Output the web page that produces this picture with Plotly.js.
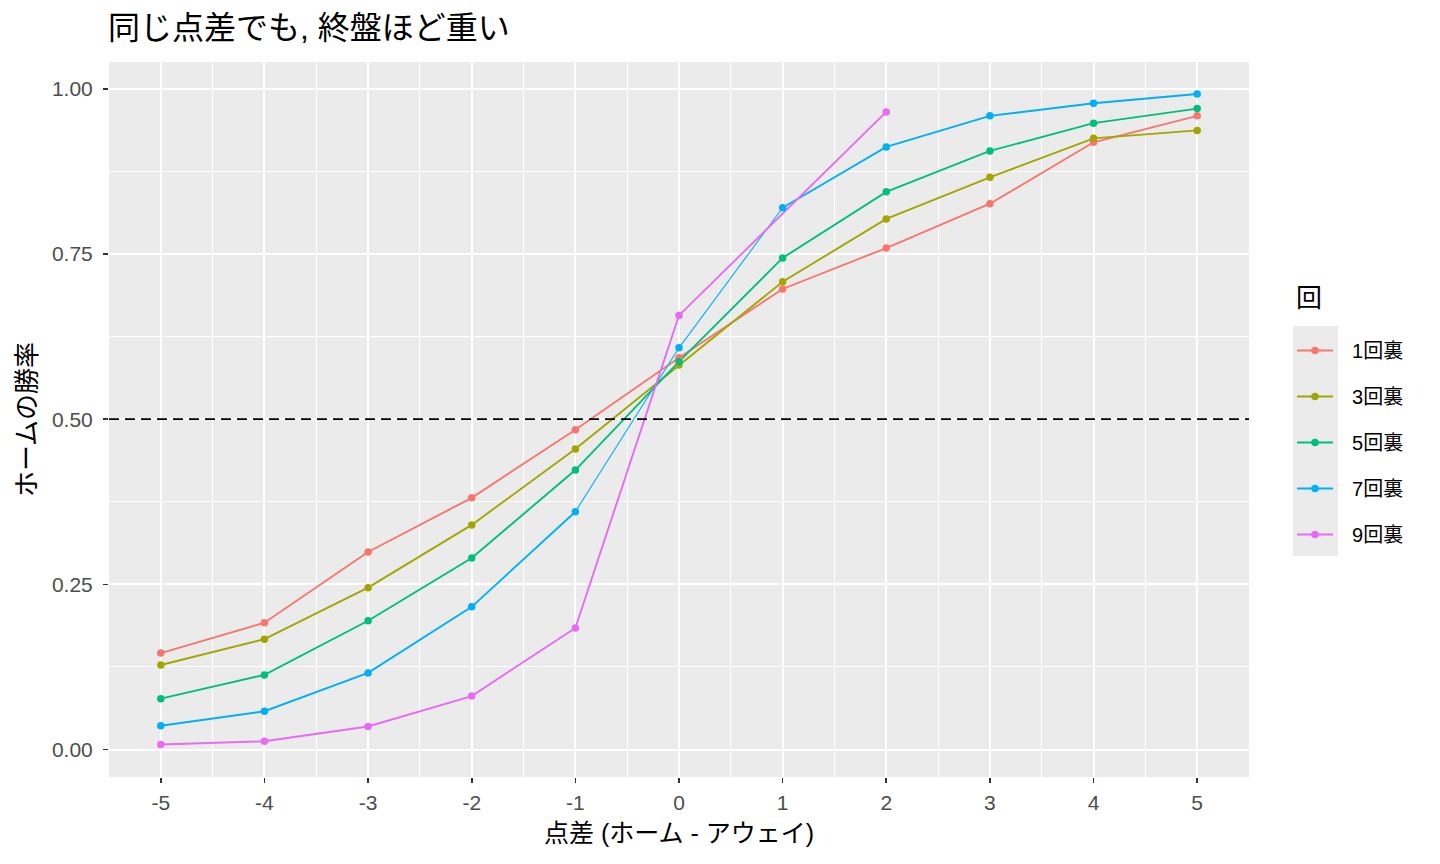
<!DOCTYPE html>
<html>
<head>
<meta charset="utf-8">
<script src="https://cdn.plot.ly/plotly-3.0.1.min.js"></script>
<style>html,body{margin:0;padding:0;background:#fff;}#chart{width:1440px;height:864px;}</style>
</head>
<body>
<div id="chart"></div>
<script>
const diffs = [-5, -4, -3, -2, -1, 0, 1, 2, 3, 4, 5];
const diffs9 = [-5, -4, -3, -2, -1, 0, 2];
const seriesNames = ["1回裏", "3回裏", "5回裏", "7回裏", "9回裏"];
const inning1 = [0.146, 0.192, 0.299, 0.381, 0.484, 0.593, 0.697, 0.759, 0.826, 0.919, 0.959];
const inning3 = [0.128, 0.167, 0.245, 0.340, 0.455, 0.582, 0.708, 0.803, 0.866, 0.925, 0.937];
const inning5 = [0.077, 0.113, 0.195, 0.290, 0.423, 0.587, 0.744, 0.844, 0.906, 0.948, 0.970];
const inning7 = [0.036, 0.058, 0.116, 0.216, 0.360, 0.608, 0.820, 0.912, 0.959, 0.978, 0.992];
const inning9 = [0.0076, 0.0126, 0.035, 0.081, 0.184, 0.657, 0.965];
const xTicks = [-5, -4, -3, -2, -1, 0, 1, 2, 3, 4, 5];
const yTicks = [0, 0.25, 0.5, 0.75, 1.0];
const yTickLabels = ["0.00", "0.25", "0.50", "0.75", "1.00"];
const refLine = 0.5;

const colors = ["#F8766D", "#A3A500", "#00BF7D", "#00B0F6", "#E76BF3"];
const xs = [diffs, diffs, diffs, diffs, diffs9];
const ys = [inning1, inning3, inning5, inning7, inning9];

const traces = [];
for (let i = 0; i < 5; i++) {
  if (i === 3) {
    const a = xs[i].indexOf(-1), b = xs[i].indexOf(1);
    traces.push({x: xs[i].slice(0, a + 1), y: ys[i].slice(0, a + 1), mode: 'lines', line: {color: colors[i], width: 1.9}, showlegend: false, hoverinfo: 'skip'});
    traces.push({x: xs[i].slice(a, b + 1), y: ys[i].slice(a, b + 1), mode: 'lines', line: {color: colors[i], width: 1.1}, showlegend: false, hoverinfo: 'skip'});
    traces.push({x: xs[i].slice(b), y: ys[i].slice(b), mode: 'lines', line: {color: colors[i], width: 1.9}, showlegend: false, hoverinfo: 'skip'});
  } else {
    traces.push({x: xs[i], y: ys[i], mode: 'lines', line: {color: colors[i], width: 1.9}, showlegend: false, hoverinfo: 'skip'});
  }
}
for (let i = 0; i < 5; i++) {
  traces.push({x: xs[i], y: ys[i], mode: 'markers', marker: {color: colors[i], size: 7.5}, showlegend: false, name: seriesNames[i]});
}
for (let i = 0; i < 5; i++) {
  traces.push({x: [null], y: [null], mode: 'lines+markers', name: '\u2002\u2009' + seriesNames[i], legendgroup: 'g' + i,
    line: {color: colors[i], width: 1.9}, marker: {color: colors[i], size: 7.5}, showlegend: true});
}

const ml = 109, mr = 191, mt = 62, mb = 87;
const pw = 1440 - ml - mr, ph = 864 - mt - mb;
const px2x = p => (p - ml) / pw;
const px2y = p => (864 - mb - p) / ph;

const layout = {
  width: 1440, height: 864,
  margin: {l: ml, r: mr, t: mt, b: mb, pad: 0},
  paper_bgcolor: '#FFFFFF',
  plot_bgcolor: '#EBEBEB',
  font: {family: '"Liberation Sans", Arial, "Noto Sans CJK JP", sans-serif', color: '#000'},
  title: {text: '同じ点差でも, 終盤ほど重い', x: 108 / 1440, xref: 'container', xanchor: 'left', y: 1 - 28 / 864, yref: 'container', yanchor: 'middle',
    font: {size: 32, family: '"Liberation Sans", "Noto Sans CJK JP", sans-serif', color: '#000'}},
  xaxis: {
    range: [-5.5, 5.5], tickvals: xTicks, ticktext: xTicks.map(String), zeroline: false,
    showgrid: true, gridcolor: '#FFFFFF', gridwidth: 2,
    minor: {dtick: 0.5, tick0: -5.5, showgrid: true, gridcolor: '#FFFFFF', gridwidth: 1, ticks: ''},
    ticks: 'outside', ticklen: 5, tickwidth: 1.6, tickcolor: '#333333',
    tickfont: {size: 21, color: '#4D4D4D'}, ticklabelstandoff: 2,
    title: {text: '点差 (ホーム - アウェイ)', font: {size: 25, color: '#000'}, standoff: 11},
    showline: false, fixedrange: true
  },
  yaxis: {
    range: [-0.0415, 1.0405], tickvals: yTicks, ticktext: yTickLabels, zeroline: false,
    showgrid: true, gridcolor: '#FFFFFF', gridwidth: 2,
    minor: {dtick: 0.125, tick0: -0.125, showgrid: true, gridcolor: '#FFFFFF', gridwidth: 1, ticks: ''},
    ticks: 'outside', ticklen: 5, tickwidth: 1.6, tickcolor: '#333333',
    tickfont: {size: 21, color: '#4D4D4D'}, ticklabelstandoff: 6,
    title: {text: 'ホームの勝率', font: {size: 26, color: '#000'}, standoff: 7},
    showline: false, fixedrange: true
  },
  shapes: [
    {type: 'line', xref: 'paper', x0: 0, x1: 1, yref: 'y', y0: refLine, y1: refLine,
      line: {color: '#000000', width: 1.9, dash: '10px,6px'}},
    {type: 'rect', xref: 'paper', yref: 'paper', x0: px2x(1293), x1: px2x(1338), y0: px2y(556), y1: px2y(326),
      fillcolor: '#EBEBEB', line: {width: 0}, layer: 'below'}
  ],
  annotations: [
    {text: '回', xref: 'paper', yref: 'paper', x: px2x(1294), y: px2y(298), xanchor: 'left', yanchor: 'middle',
      showarrow: false, font: {size: 26, color: '#000'}}
  ],
  legend: {
    x: px2x(1292), y: px2y(331), xanchor: 'left', yanchor: 'top',
    bgcolor: 'rgba(0,0,0,0)', borderwidth: 0,
    traceorder: 'grouped', tracegroupgap: 17,
    font: {size: 20, color: '#000'},
    itemwidth: 36
  },
  showlegend: true
};

Plotly.newPlot('chart', traces, layout, {displayModeBar: false, staticPlot: true});
</script>
</body>
</html>
